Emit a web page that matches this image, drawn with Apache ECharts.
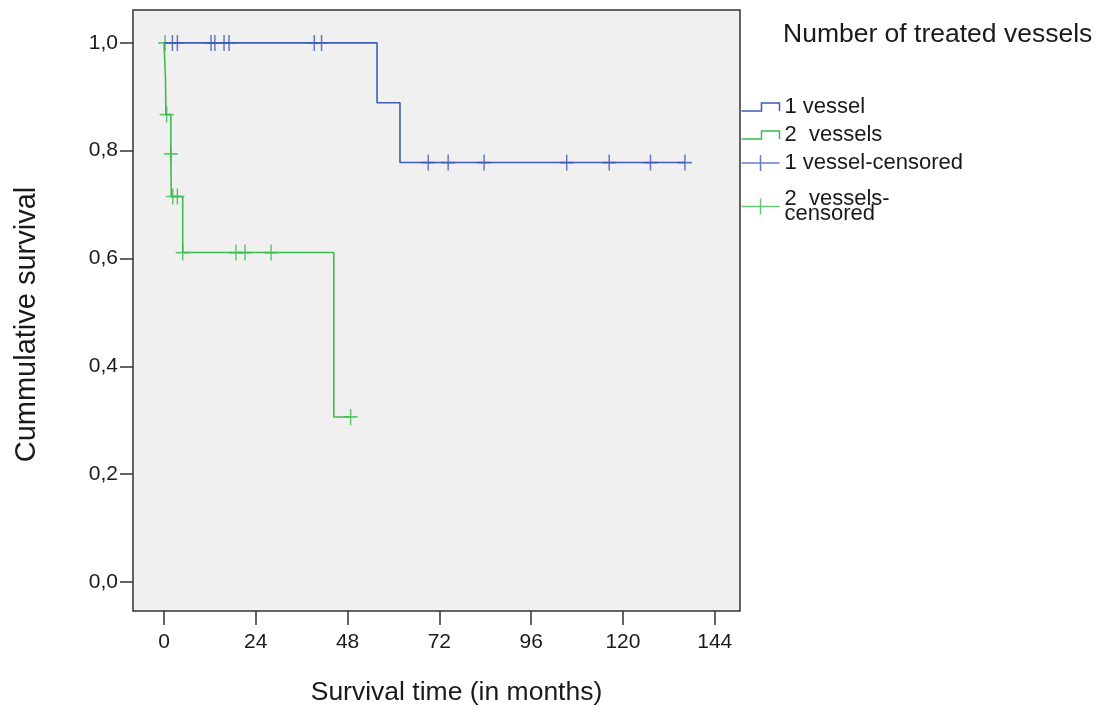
<!DOCTYPE html>
<html>
<head>
<meta charset="utf-8">
<script src="https://cdn.jsdelivr.net/npm/echarts@6/dist/echarts.min.js"></script>
<style>
  html, body { margin: 0; padding: 0; background: #fff; }
  #chart { width: 1098px; height: 711px; }
</style>
</head>
<body>
<div id="chart"></div>
<script>
// Kaplan-Meier steps (time in months, cumulative survival after the step)
const oneVesselTimes = [0, 55.7, 61.7, 136.2];
const oneVesselSurv = [1, 0.889, 0.778, 0.778];
const twoVesselTimes = [0, 0.4, 0.5, 1.8, 1.9, 4.9, 44.4, 48.8];
const twoVesselSurv = [1, 0.933, 0.867, 0.794, 0.715, 0.611, 0.306, 0.306];

// censored observations
const oneCensTimes = [2.2, 3.5, 12.3, 13.3, 15.7, 17.0, 39.3, 41.2,
                      69.1, 74.3, 83.7, 105.3, 116.4, 127.2, 136.2];
const oneCensSurv = [1, 1, 1, 1, 1, 1, 1, 1,
                     0.778, 0.778, 0.778, 0.778, 0.778, 0.778, 0.778];
const twoCensTimes = [0.3, 0.7, 1.8, 2.3, 3.5, 4.9, 18.8, 21.2, 28.0, 48.8];
const twoCensSurv = [1, 0.867, 0.794, 0.715, 0.715, 0.611, 0.611, 0.611, 0.611, 0.306];

const xTicks = [0, 24, 48, 72, 96, 120, 144];
const yTicks = [0, 0.2, 0.4, 0.6, 0.8, 1.0];
const seriesNames = ['1 vessel', '2  vessels', '1 vessel-censored', '2  vessels-\ncensored'];

const BLUE = '#3f5cb8';
const GREEN = '#3dbb4f';
const TEXT = '#1a1a1a';
const FONT = 'Liberation Sans, Arial, sans-serif';

const zip = (xs, ys) => xs.map((x, i) => [x, ys[i]]);

const stepIcon = 'path://M0,8 L20,8 L20,0 L38,0 L38,8';
const plusIcon = 'path://M0,8 L38,8 M19,0 L19,16';
const plusMark = 'path://M0,8 L14,8 M7,0 L7,16';

const chart = echarts.init(document.getElementById('chart'));

const option = {
    animation: false,
    title: {
        text: 'Number of treated vessels',
        left: 778,
        top: 16,
        textStyle: { fontFamily: FONT, fontSize: 26.5, fontWeight: 'normal', color: TEXT }
    },
    legend: [{
        orient: 'vertical',
        left: 739,
        top: 96,
        padding: 0,
        itemGap: 6,
        itemWidth: 38,
        itemHeight: 17,
        textStyle: { fontFamily: FONT, fontSize: 22, lineHeight: 17, color: TEXT },
        data: [
            { name: seriesNames[0], icon: stepIcon, itemStyle: { color: 'none', borderColor: BLUE, borderWidth: 1.5 } },
            { name: seriesNames[1], icon: stepIcon, itemStyle: { color: 'none', borderColor: GREEN, borderWidth: 1.5 } },
            { name: seriesNames[2], icon: plusIcon, itemStyle: { color: 'none', borderColor: BLUE, borderWidth: 1.5 } }
        ]
    }, {
        orient: 'vertical',
        left: 739,
        top: 188,
        padding: 0,
        itemWidth: 38,
        itemHeight: 17,
        textStyle: { fontFamily: FONT, fontSize: 22, lineHeight: 15, color: TEXT },
        data: [
            { name: seriesNames[3], icon: plusIcon, itemStyle: { color: 'none', borderColor: GREEN, borderWidth: 1.5 } }
        ]
    }],
    grid: {
        left: 133,
        right: 358,
        top: 10,
        bottom: 99,
        show: true,
        backgroundColor: '#f0f0f0',
        borderColor: '#333',
        borderWidth: 1.5
    },
    xAxis: {
        type: 'value',
        min: -8.1,
        max: 150.6,
        name: 'Survival time (in months)',
        nameLocation: 'middle',
        nameGap: 68,
        nameTextStyle: { fontFamily: FONT, fontSize: 26.5, color: TEXT, padding: [0, 0, 0, 40] },
        axisLine: { show: false, onZero: false },
        splitLine: { show: false },
        axisTick: { show: true, length: 14, customValues: xTicks, lineStyle: { color: '#333', width: 1.5 } },
        axisLabel: {
            customValues: xTicks,
            margin: 21,
            fontFamily: FONT,
            fontSize: 21,
            color: TEXT
        }
    },
    yAxis: {
        type: 'value',
        min: -0.054,
        max: 1.061,
        name: 'Cummulative survival',
        nameLocation: 'middle',
        nameGap: 92,
        nameTextStyle: { fontFamily: FONT, fontSize: 29, color: TEXT, padding: [0, 28, 0, 0] },
        axisLine: { show: false, onZero: false },
        splitLine: { show: false },
        axisTick: { show: true, length: 13, customValues: yTicks, lineStyle: { color: '#333', width: 1.5 } },
        axisLabel: {
            customValues: yTicks,
            margin: 15,
            fontFamily: FONT,
            fontSize: 21,
            color: TEXT,
            formatter: function (v) {
                return v.toFixed(1).replace('.', ',');
            }
        }
    },
    series: [
        {
            name: seriesNames[0],
            type: 'line',
            step: 'end',
            symbol: 'none',
            data: zip(oneVesselTimes, oneVesselSurv),
            lineStyle: { color: BLUE, width: 1.6 },
            itemStyle: { color: BLUE }
        },
        {
            name: seriesNames[1],
            type: 'line',
            step: 'end',
            symbol: 'none',
            data: zip(twoVesselTimes, twoVesselSurv),
            lineStyle: { color: GREEN, width: 1.6 },
            itemStyle: { color: GREEN }
        },
        {
            name: seriesNames[2],
            type: 'scatter',
            symbol: plusMark,
            symbolSize: [14, 16],
            data: zip(oneCensTimes, oneCensSurv),
            itemStyle: { color: 'none', borderColor: BLUE, borderWidth: 1.6 }
        },
        {
            name: seriesNames[3],
            type: 'scatter',
            symbol: plusMark,
            symbolSize: [14, 16],
            data: zip(twoCensTimes, twoCensSurv),
            itemStyle: { color: 'none', borderColor: GREEN, borderWidth: 1.6 }
        }
    ]
};

chart.setOption(option);
</script>
</body>
</html>
